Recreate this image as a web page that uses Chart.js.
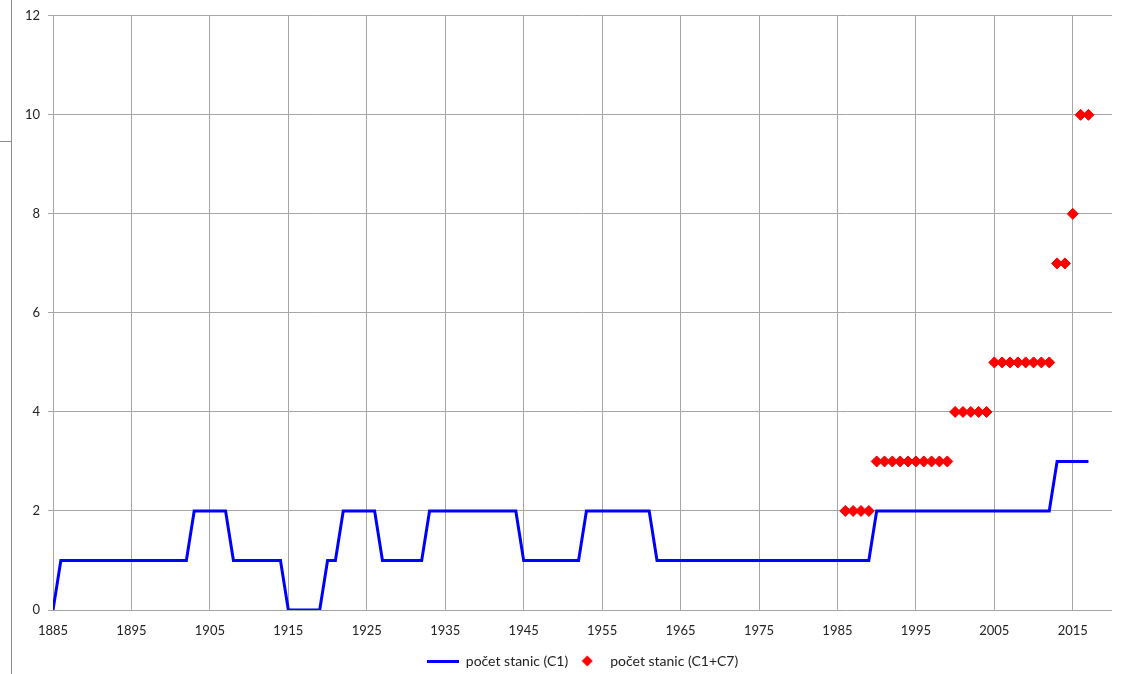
<!DOCTYPE html>
<html>
<head>
<meta charset="utf-8">
<script src="https://cdn.jsdelivr.net/npm/chart.js@4/dist/chart.umd.min.js"></script>
<style>
  html, body { margin: 0; padding: 0; background: #fff; }
  #wrap { position: relative; width: 1122px; height: 674px; }
  #frameV { position: absolute; left: 11px; top: 0; width: 0; height: 674px; border-left: 1px solid #8c8c8c; }
  #frameH { position: absolute; left: 0; top: 141px; width: 11px; height: 0; border-top: 1px solid #8c8c8c; }
</style>
</head>
<body>
<div id="wrap">
  <canvas id="chart" width="1122" height="674"></canvas>
  <div id="frameV"></div>
  <div id="frameH"></div>
</div>
<script>
// pocet stanic C1, rok po roku
const years = [
  1885, 1886, 1887, 1888, 1889, 1890, 1891, 1892, 1893, 1894,
  1895, 1896, 1897, 1898, 1899, 1900, 1901, 1902, 1903, 1904,
  1905, 1906, 1907, 1908, 1909, 1910, 1911, 1912, 1913, 1914,
  1915, 1916, 1917, 1918, 1919, 1920, 1921, 1922, 1923, 1924,
  1925, 1926, 1927, 1928, 1929, 1930, 1931, 1932, 1933, 1934,
  1935, 1936, 1937, 1938, 1939, 1940, 1941, 1942, 1943, 1944,
  1945, 1946, 1947, 1948, 1949, 1950, 1951, 1952, 1953, 1954,
  1955, 1956, 1957, 1958, 1959, 1960, 1961, 1962, 1963, 1964,
  1965, 1966, 1967, 1968, 1969, 1970, 1971, 1972, 1973, 1974,
  1975, 1976, 1977, 1978, 1979, 1980, 1981, 1982, 1983, 1984,
  1985, 1986, 1987, 1988, 1989, 1990, 1991, 1992, 1993, 1994,
  1995, 1996, 1997, 1998, 1999, 2000, 2001, 2002, 2003, 2004,
  2005, 2006, 2007, 2008, 2009, 2010, 2011, 2012, 2013, 2014,
  2015, 2016, 2017
]
const c1 = [
  0, 1, 1, 1, 1, 1, 1, 1, 1, 1,
  1, 1, 1, 1, 1, 1, 1, 1, 2, 2,
  2, 2, 2, 1, 1, 1, 1, 1, 1, 1,
  0, 0, 0, 0, 0, 1, 1, 2, 2, 2,
  2, 2, 1, 1, 1, 1, 1, 1, 2, 2,
  2, 2, 2, 2, 2, 2, 2, 2, 2, 2,
  1, 1, 1, 1, 1, 1, 1, 1, 2, 2,
  2, 2, 2, 2, 2, 2, 2, 1, 1, 1,
  1, 1, 1, 1, 1, 1, 1, 1, 1, 1,
  1, 1, 1, 1, 1, 1, 1, 1, 1, 1,
  1, 1, 1, 1, 1, 2, 2, 2, 2, 2,
  2, 2, 2, 2, 2, 2, 2, 2, 2, 2,
  2, 2, 2, 2, 2, 2, 2, 2, 3, 3,
  3, 3, 3
]

// pocet stanic C1+C7
const years2 = [
  1986, 1987, 1988, 1989,
  1990, 1991, 1992, 1993, 1994, 1995, 1996, 1997, 1998, 1999,
  2000, 2001, 2002, 2003, 2004,
  2005, 2006, 2007, 2008, 2009, 2010, 2011, 2012,
  2013, 2014, 2015, 2016, 2017
]
const c1c7 = [
  2, 2, 2, 2,
  3, 3, 3, 3, 3, 3, 3, 3, 3, 3,
  4, 4, 4, 4, 4,
  5, 5, 5, 5, 5, 5, 5, 5,
  7, 7, 8, 10, 10
]

const xTicks = [1885, 1895, 1905, 1915, 1925, 1935, 1945, 1955, 1965, 1975, 1985, 1995, 2005, 2015]
const labels = ['počet stanic (C1)', 'počet stanic (C1+C7)']

const FONT = {family: 'Lato, "Liberation Sans", sans-serif', size: 13}
const GRID = '#a6a6a6'

// legend symbols: short blue line, red diamond
function lineIcon() {
  const c = document.createElement('canvas')
  c.width = 32; c.height = 3
  const g = c.getContext('2d')
  g.fillStyle = '#0000ff'
  g.fillRect(0, 0, 32, 3)
  return c
}
function diamondIcon() {
  const c = document.createElement('canvas')
  c.width = 12; c.height = 12
  const g = c.getContext('2d')
  g.fillStyle = '#ff0000'
  g.beginPath()
  g.moveTo(6, 0.5); g.lineTo(11.5, 6); g.lineTo(6, 11.5); g.lineTo(0.5, 6)
  g.closePath()
  g.fill()
  return c
}
const icons = [lineIcon(), diamondIcon()]

const ctx = document.getElementById('chart')
const chart = new Chart(ctx, {
  type: 'line',
  data: {
    datasets: [{
      label: labels[0],
      data: years.map((y, i) => ({x: y, y: c1[i]})),
      borderColor: '#0000ff',
      backgroundColor: '#0000ff',
      borderWidth: 3,
      pointRadius: 0,
      tension: 0,
      borderJoinStyle: 'miter'
    }, {
      label: labels[1],
      data: years2.map((y, i) => ({x: y, y: c1c7[i]})),
      showLine: false,
      pointStyle: 'rectRot',
      pointRadius: 5.5,
      backgroundColor: '#ff0000',
      borderColor: '#f00000',
      borderWidth: 1
    }]
  },
  options: {
    responsive: false,
    animation: false,
    layout: {padding: {top: 9, right: 10, left: 0, bottom: -4}},
    scales: {
      x: {
        type: 'linear',
        min: 1885,
        max: 2020,
        afterBuildTicks: (s) => { s.ticks = xTicks.map(v => ({value: v})) },
        afterFit: (s) => { s.height = 41 },
        grid: {color: GRID, drawTicks: false},
        border: {display: false},
        ticks: {color: '#222', font: FONT, padding: 13, maxRotation: 0, autoSkip: false,
          callback: (v) => String(v)}
      },
      y: {
        min: 0,
        max: 12,
        afterFit: (s) => { s.width = 53 },
        grid: {color: GRID, tickLength: 5},
        border: {display: false},
        ticks: {color: '#222', font: FONT, stepSize: 2, padding: 8}
      }
    },
    plugins: {
      tooltip: {enabled: false},
      legend: {
        position: 'bottom',
        fullSize: false,
        labels: {
          usePointStyle: true,
          pointStyleWidth: 32,
          color: '#222',
          font: {family: 'Lato, "Liberation Sans", sans-serif', size: 14},
          padding: 3,
          generateLabels: (c) => {
            const items = Chart.defaults.plugins.legend.labels.generateLabels(c)
            items.forEach((it, i) => { it.pointStyle = icons[i] })
            return items
          }
        }
      }
    }
  }
})
</script>
</body>
</html>
